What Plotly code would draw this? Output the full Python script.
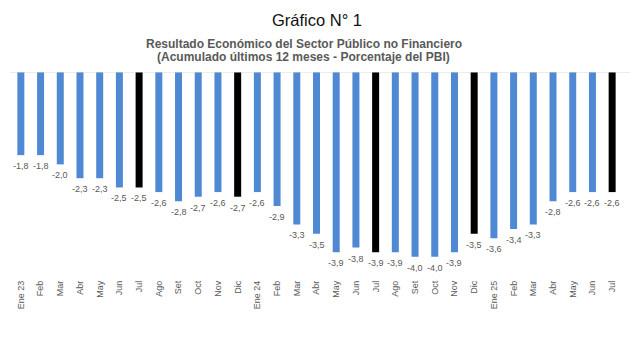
import plotly.graph_objects as go

months = ["Ene 23", "Feb", "Mar", "Abr", "May", "Jun", "Jul", "Ago", "Set", "Oct", "Nov", "Dic",
          "Ene 24", "Feb", "Mar", "Abr", "May", "Jun", "Jul", "Ago", "Set", "Oct", "Nov", "Dic",
          "Ene 25", "Feb", "Mar", "Abr", "May", "Jun", "Jul"]
values = [-1.8, -1.8, -2.0, -2.3, -2.3, -2.5, -2.5, -2.6, -2.8, -2.7, -2.6, -2.7,
          -2.6, -2.9, -3.3, -3.5, -3.9, -3.8, -3.9, -3.9, -4.0, -4.0, -3.9, -3.5,
          -3.6, -3.4, -3.3, -2.8, -2.6, -2.6, -2.6]
highlight = [6, 11, 18, 23, 30]

blue = "#4F89D3"
black = "#000000"
colors = [black if i in highlight else blue for i in range(len(values))]
labels = [f"{v:.1f}".replace(".", ",") for v in values]

FONT = "Liberation Sans, Arial, sans-serif"
W, Hh = 640, 339
ML, MR, MT, MB = 11, 18, 72, 61
H = Hh - MT - MB
PW = W - ML - MR

def py(pix):
    return (Hh - MB - pix) / H

def px(pix):
    return (pix - ML) / PW

fig = go.Figure()
fig.add_trace(go.Bar(
    x=list(range(len(values))), y=values, marker_color=colors, marker_line_width=0,
))
for i, (v, t) in enumerate(zip(values, labels)):
    fig.add_annotation(x=i, y=v, xref="x", yref="y", text=t, showarrow=False,
                       yanchor="top", yshift=-4,
                       font=dict(family=FONT, size=9, color="#595959"))
fig.update_layout(
    width=W, height=Hh,
    margin=dict(l=ML, r=MR, t=MT, b=MB),
    paper_bgcolor="white", plot_bgcolor="white",
    bargap=0.645, showlegend=False,
    font=dict(family=FONT, color="#595959"),
)
fig.add_annotation(text="Gráfico N° 1", x=px(317), xref="paper", y=py(20), yref="paper",
                   showarrow=False, yanchor="middle", font=dict(size=16.5, color="#111111"))
fig.add_annotation(text="<b>Resultado Económico del Sector Público no Financiero</b>",
                   x=px(304), xref="paper", y=py(44), yref="paper", showarrow=False, yanchor="middle",
                   font=dict(size=12, color="#595959"))
fig.add_annotation(text="<b>(Acumulado últimos 12 meses - Porcentaje del PBI)</b>",
                   x=px(303), xref="paper", y=py(57), yref="paper", showarrow=False, yanchor="middle",
                   font=dict(size=12, color="#595959"))
fig.update_xaxes(tickmode="array", tickvals=list(range(len(values))), ticktext=months,
                 tickangle=-90, tickfont=dict(size=9, color="#595959"), showgrid=False,
                 showline=False, ticks="", range=[-0.5, len(values) - 0.5], fixedrange=True)
fig.update_yaxes(range=[-4.46, 0], visible=False, showgrid=False, zeroline=False)
fig.add_shape(type="line", xref="paper", yref="y", x0=-0.002, x1=1.013, y0=0, y1=0,
              line=dict(color="#D9D9D9", width=1))
fig.write_html("out.html")
